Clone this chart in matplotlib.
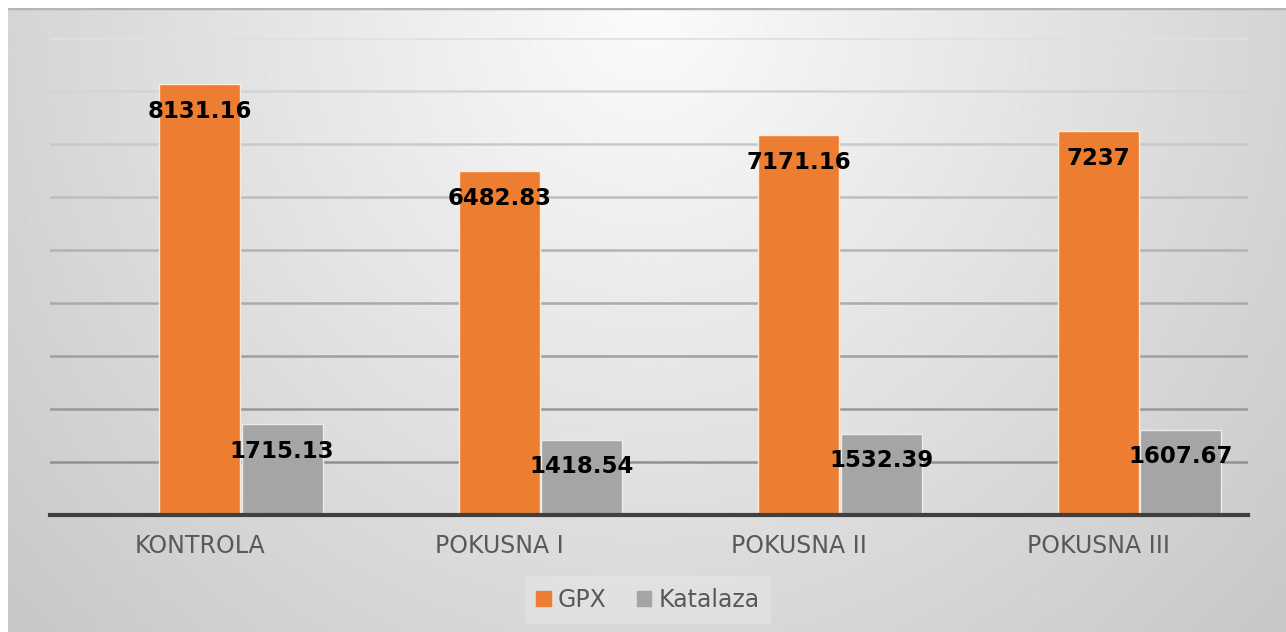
import numpy as np
import matplotlib.pyplot as plt
from matplotlib.patches import Patch

categories = ['KONTROLA', 'POKUSNA I', 'POKUSNA II', 'POKUSNA III']
gpx = [8131.16, 6482.83, 7171.16, 7237]
katalaza = [1715.13, 1418.54, 1532.39, 1607.67]
gpx_labels = ['8131.16', '6482.83', '7171.16', '7237']
kat_labels = ['1715.13', '1418.54', '1532.39', '1607.67']
grid_levels = [1000, 2000, 3000, 4000, 5000, 6000, 7000, 8000, 9000]

orange = '#ED7D31'
grey = '#A5A5A5'

fig = plt.figure(figsize=(12.86, 6.32), dpi=100)

# background: soft radial gradient (white at top centre, grey towards edges)
bg = fig.add_axes([8/1286, 0, 1 - 8/1286, 1 - 8/632])
yy, xx = np.mgrid[0:1:300j, 0:1:600j]
r = np.sqrt(((xx - 0.5) / 0.6) ** 2 + (yy / 1.3) ** 2)
shade = 0.985 - 0.18 * np.clip(r, 0, 1.15)
bg.imshow(shade, cmap='gray', vmin=0, vmax=1, aspect='auto', extent=[0, 1, 1, 0])
bg.axhline(0.0, color='#b5b5b5', linewidth=2.5)
bg.set_xlim(0, 1)
bg.set_ylim(1, 0)
bg.set_axis_off()

ax = fig.add_axes([50/1286, 1 - 515/632, 1198/1286, (515 - 38)/632])
ax.set_facecolor('none')

x = np.arange(len(categories))
w = 0.27
b1 = ax.bar(x, gpx, w, color=orange, edgecolor='#fbe9dc', linewidth=1, zorder=3)
b2 = ax.bar(x + 0.275, katalaza, w, color=grey, edgecolor='#ececec', linewidth=1, zorder=3)

for bars, labs in [(b1, gpx_labels), (b2, kat_labels)]:
    for rect, lab in zip(bars, labs):
        ax.annotate(lab, (rect.get_x() + rect.get_width() / 2, rect.get_height()),
                    xytext=(0, -19.5), textcoords='offset points',
                    ha='center', va='center', fontsize=16.5, fontweight='bold',
                    color='black', zorder=5)

ax.set_xlim(-0.5, 3.5)
ax.set_ylim(0, 9000)

# gridlines fade from dark near the base to light at the top
for g in grid_levels:
    f = g / 9000
    c = 0.55 + 0.33 * f ** 1.3
    ax.axhline(g, color=(c, c, c), linewidth=1.8, zorder=1)

ax.set_yticks([])
ax.set_xticks(x)
ax.set_xticklabels(categories, fontsize=17, color='#595959')
ax.tick_params(axis='x', length=0, pad=14)
for s in ['top', 'right', 'left']:
    ax.spines[s].set_visible(False)
ax.spines['bottom'].set_color('#404040')
ax.spines['bottom'].set_linewidth(3)
ax.spines['bottom'].set_zorder(4)

handles = [Patch(color=orange, label='GPX'), Patch(color=grey, label='Katalaza')]
leg = fig.legend(handles=handles, loc='center', bbox_to_anchor=(648/1286, 1 - 600/632),
                 ncol=2, frameon=True, fancybox=False,
                 handlelength=0.6, handleheight=0.6, handletextpad=0.3, columnspacing=1.3,
                 borderpad=0.5, prop={'size': 17})
leg.get_frame().set_facecolor('#e3e3e3')
leg.get_frame().set_edgecolor('none')
for t in leg.get_texts():
    t.set_color('#595959')

fig.savefig('out.png', dpi=100)
